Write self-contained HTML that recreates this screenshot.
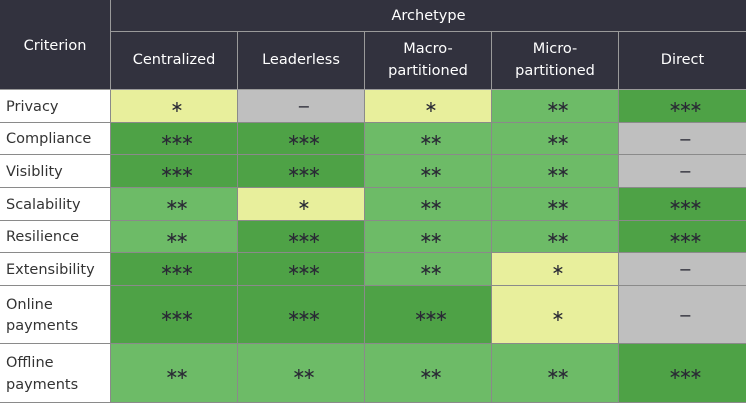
<!DOCTYPE html>
<html><head><meta charset="utf-8"><style>
body{margin:0;width:746px;height:402px;overflow:hidden;background:#fff;font-family:"DejaVu Sans","Liberation Sans",sans-serif;}
.c{position:absolute;box-sizing:border-box;display:flex;align-items:center;justify-content:center;text-align:center;font-size:14.5px;color:#333;border-right:1px solid #8a8a8a;border-bottom:1px solid #8a8a8a;line-height:1.45;}
.h{background:#32323e;color:#fff;border-color:#9a9a9a;font-size:14.5px;}
.l{justify-content:flex-start;text-align:left;padding-left:6px;padding-top:3px;background:#fff;color:#333;}
.y{background:#e8ef9c}.g{background:#bfbfbf}.d{background:#4ea246}.m{background:#6dbb67}
.s{font-size:16px;letter-spacing:-3px;color:#2a2a35;padding-top:2px}
.s span{margin-right:-3px}
</style></head><body>
<div class="c h" style="left:0;top:0;width:111px;height:90px;padding-top:4px">Criterion</div>
<div class="c h" style="left:111px;top:0;width:635px;height:32px;border-right:none;padding-top:2px">Archetype</div>
<div class="c h" style="left:111px;top:32px;width:127px;height:58px">Centralized</div>
<div class="c h" style="left:238px;top:32px;width:127px;height:58px">Leaderless</div>
<div class="c h" style="left:365px;top:32px;width:127px;height:58px">Macro-<br>partitioned</div>
<div class="c h" style="left:492px;top:32px;width:127px;height:58px">Micro-<br>partitioned</div>
<div class="c h" style="left:619px;top:32px;width:127px;height:58px;border-right:none">Direct</div>
<div id="t"></div>
<script>
var rows=[["Privacy","y1","g0","y1","m2","d3"],["Compliance","d3","d3","m2","m2","g0"],["Visiblity","d3","d3","m2","m2","g0"],["Scalability","m2","y1","m2","m2","d3"],["Resilience","m2","d3","m2","m2","d3"],["Extensibility","d3","d3","m2","y1","g0"],["Online<br>payments","d3","d3","d3","y1","g0"],["Offline<br>payments","m2","m2","m2","m2","d3"]];
var ys=[90,123,155,188,221,253,286,344,403];var xs=[0,111,238,365,492,619,746];var h="";
rows.forEach(function(r,i){var top=ys[i],ht=ys[i+1]-ys[i];
h+='<div class="c l" style="left:0;top:'+top+'px;width:111px;height:'+ht+'px">'+r[0]+'</div>';
for(var j=1;j<6;j++){var v=r[j];var n=+v[1];var t=n==0?'<span>−</span>':'<span>'+"∗∗∗".slice(0,n)+'</span>';
h+='<div class="c s '+v[0]+'" style="left:'+xs[j]+'px;top:'+top+'px;width:'+(xs[j+1]-xs[j])+'px;height:'+ht+'px'+(j==5?';border-right:none':'')+'">'+t+'</div>';}});
document.getElementById("t").innerHTML=h;
</script>
</body></html>
